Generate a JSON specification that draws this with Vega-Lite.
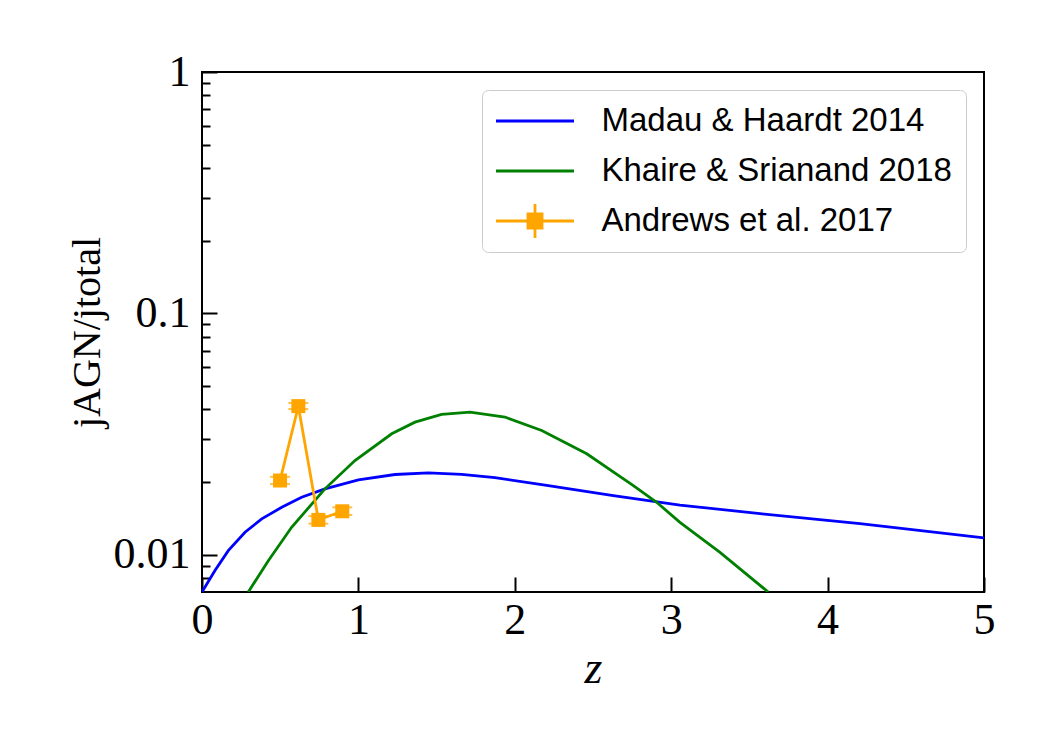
{
  "$schema": "https://vega.github.io/schema/vega-lite/v6.json",
  "width": 782,
  "height": 520,
  "autosize": {"type": "none"},
  "padding": {"left": 202, "top": 72, "right": 66, "bottom": 158},
  "background": "white",
  "config": {
    "view": {"stroke": "black", "strokeWidth": 2},
    "axis": {
      "domain": false,
      "grid": false,
      "tickColor": "black",
      "tickWidth": 2,
      "labelColor": "black",
      "labelFont": "Liberation Serif",
      "labelFontSize": 44,
      "titleFont": "Liberation Serif",
      "titleColor": "black",
      "titleFontWeight": "normal",
      "labelFlush": false,
      "labelOverlap": false
    }
  },
  "datasets": {
    "curves": [
      {"series": "Madau & Haardt 2014", "z": 0.0, "value": 0.0070},
      {"series": "Madau & Haardt 2014", "z": 0.083, "value": 0.0086},
      {"series": "Madau & Haardt 2014", "z": 0.168, "value": 0.01039},
      {"series": "Madau & Haardt 2014", "z": 0.275, "value": 0.01238},
      {"series": "Madau & Haardt 2014", "z": 0.382, "value": 0.01406},
      {"series": "Madau & Haardt 2014", "z": 0.51, "value": 0.01571},
      {"series": "Madau & Haardt 2014", "z": 0.637, "value": 0.01729},
      {"series": "Madau & Haardt 2014", "z": 0.786, "value": 0.01873},
      {"series": "Madau & Haardt 2014", "z": 1.0, "value": 0.02042},
      {"series": "Madau & Haardt 2014", "z": 1.234, "value": 0.02148},
      {"series": "Madau & Haardt 2014", "z": 1.447, "value": 0.02183},
      {"series": "Madau & Haardt 2014", "z": 1.66, "value": 0.02150},
      {"series": "Madau & Haardt 2014", "z": 1.873, "value": 0.02085},
      {"series": "Madau & Haardt 2014", "z": 2.204, "value": 0.01935},
      {"series": "Madau & Haardt 2014", "z": 2.63, "value": 0.01755},
      {"series": "Madau & Haardt 2014", "z": 3.056, "value": 0.01605},
      {"series": "Madau & Haardt 2014", "z": 3.568, "value": 0.01478},
      {"series": "Madau & Haardt 2014", "z": 4.207, "value": 0.01345},
      {"series": "Madau & Haardt 2014", "z": 5.0, "value": 0.01173},
      {"series": "Khaire & Srianand 2018", "z": 0.296, "value": 0.0070},
      {"series": "Khaire & Srianand 2018", "z": 0.424, "value": 0.00944},
      {"series": "Khaire & Srianand 2018", "z": 0.573, "value": 0.01298},
      {"series": "Khaire & Srianand 2018", "z": 0.786, "value": 0.01873},
      {"series": "Khaire & Srianand 2018", "z": 0.978, "value": 0.02455},
      {"series": "Khaire & Srianand 2018", "z": 1.213, "value": 0.03168},
      {"series": "Khaire & Srianand 2018", "z": 1.362, "value": 0.03540},
      {"series": "Khaire & Srianand 2018", "z": 1.532, "value": 0.03810},
      {"series": "Khaire & Srianand 2018", "z": 1.714, "value": 0.03895},
      {"series": "Khaire & Srianand 2018", "z": 1.937, "value": 0.03716},
      {"series": "Khaire & Srianand 2018", "z": 2.172, "value": 0.03269},
      {"series": "Khaire & Srianand 2018", "z": 2.46, "value": 0.02618},
      {"series": "Khaire & Srianand 2018", "z": 2.758, "value": 0.01933},
      {"series": "Khaire & Srianand 2018", "z": 2.907, "value": 0.01648},
      {"series": "Khaire & Srianand 2018", "z": 3.056, "value": 0.01361},
      {"series": "Khaire & Srianand 2018", "z": 3.312, "value": 0.01022},
      {"series": "Khaire & Srianand 2018", "z": 3.62, "value": 0.0070}
    ],
    "andrews": [
      {"z": 0.499, "y": 0.02028, "lo": 0.0196, "hi": 0.0210},
      {"z": 0.616, "y": 0.04124, "lo": 0.0401, "hi": 0.0425},
      {"z": 0.744, "y": 0.01393, "lo": 0.01344, "hi": 0.01443},
      {"z": 0.897, "y": 0.01512, "lo": 0.0146, "hi": 0.0157}
    ]
  },
  "layer": [
    {
      "data": {"name": "curves"},
      "mark": {"type": "line", "strokeWidth": 2.8, "clip": true},
      "encoding": {
        "x": {
          "field": "z", "type": "quantitative",
          "scale": {"domain": [0, 5], "nice": false, "zero": false},
          "axis": {
            "orient": "bottom",
            "values": [0, 1, 2, 3, 4, 5], "format": "d",
            "tickSize": -15, "labelPadding": 21,
            "title": "z", "titleFontStyle": "italic", "titleFontSize": 46, "titlePadding": 4
          }
        },
        "y": {
          "field": "value", "type": "quantitative",
          "scale": {"type": "log", "domain": [0.007, 1], "nice": false},
          "axis": {
            "orient": "left",
            "values": [0.01, 0.1, 1], "format": "~g",
            "tickSize": -15, "labelPadding": 27,
            "title": "jAGN/jtotal", "titleFontSize": 40, "titlePadding": 6
          }
        },
        "color": {
          "field": "series", "type": "nominal",
          "scale": {
            "domain": ["Madau & Haardt 2014", "Khaire & Srianand 2018", "Andrews et al. 2017"],
            "range": ["#0000ff", "#008000", "#ffa500"]
          },
          "legend": {
            "title": null,
            "orient": "top-right",
            "offset": 18,
            "padding": 14,
            "fillColor": "rgba(255,255,255,0.8)",
            "strokeColor": "#cccccc",
            "cornerRadius": 6,
            "labelFont": "Liberation Sans",
            "labelFontSize": 33,
            "labelColor": "black",
            "labelLimit": 600,
            "symbolType": "stroke",
            "symbolSize": 6084,
            "symbolStrokeWidth": 2.8,
            "symbolOffset": -1.5,
            "labelOffset": 26,
            "clipHeight": 34,
            "rowPadding": 16,
            "encode": {
              "symbols": {
                "update": {
                  "shape": {"signal": "datum.value === 'Andrews et al. 2017' ? 'M-1,0H1M-0.18,-0.18H0.18V0.18H-0.18ZM0,-0.48V0.48M-0.3,-0.48H0.3M-0.3,0.48H0.3' : 'stroke'"},
                  "fill": {"signal": "datum.value === 'Andrews et al. 2017' ? '#ffa500' : 'transparent'"}
                }
              }
            }
          }
        }
      }
    },
    {
      "data": {"name": "andrews"},
      "mark": {"type": "rule", "color": "#ffa500", "strokeWidth": 2.5},
      "encoding": {
        "x": {"field": "z", "type": "quantitative", "axis": null},
        "y": {
          "field": "lo", "type": "quantitative",
          "axis": {
            "orient": "left",
            "values": [0.008, 0.009, 0.02, 0.03, 0.04, 0.05, 0.06, 0.07, 0.08, 0.09, 0.2, 0.3, 0.4, 0.5, 0.6, 0.7, 0.8, 0.9],
            "labels": false, "tickSize": -8, "title": null
          }
        },
        "y2": {"field": "hi"}
      }
    },
    {
      "data": {"name": "andrews"},
      "mark": {"type": "tick", "orient": "horizontal", "color": "#ffa500", "size": 20, "thickness": 2},
      "encoding": {
        "x": {"field": "z", "type": "quantitative", "axis": null},
        "y": {"field": "lo", "type": "quantitative", "axis": null}
      }
    },
    {
      "data": {"name": "andrews"},
      "mark": {"type": "tick", "orient": "horizontal", "color": "#ffa500", "size": 20, "thickness": 2},
      "encoding": {
        "x": {"field": "z", "type": "quantitative", "axis": null},
        "y": {"field": "hi", "type": "quantitative", "axis": null}
      }
    },
    {
      "data": {"name": "andrews"},
      "mark": {
        "type": "line", "color": "#ffa500", "strokeWidth": 2.8,
        "point": {"filled": true, "shape": "square", "size": 196, "color": "#ffa500", "opacity": 1}
      },
      "encoding": {
        "x": {"field": "z", "type": "quantitative", "axis": null},
        "y": {"field": "y", "type": "quantitative", "axis": null}
      }
    }
  ],
  "resolve": {"axis": {"x": "independent", "y": "independent"}}
}
